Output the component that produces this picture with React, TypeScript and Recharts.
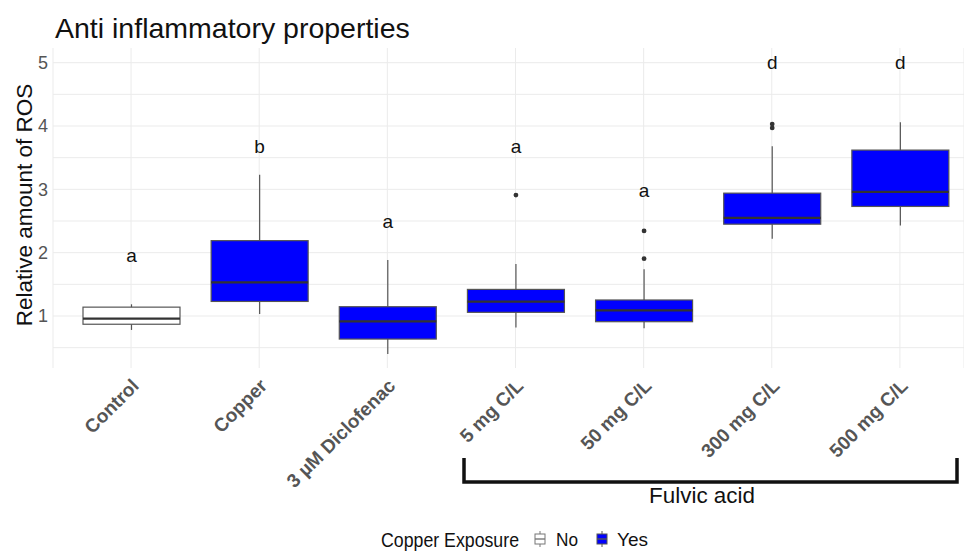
import React from 'react';
import { ComposedChart, Bar, XAxis, YAxis, CartesianGrid } from 'recharts';

// Treatments and their copper exposure
const categories = ['Control', 'Copper', '3 µM Diclofenac', '5 mg C/L', '50 mg C/L', '300 mg C/L', '500 mg C/L'];
const exposure = ['No', 'Yes', 'Yes', 'Yes', 'Yes', 'Yes', 'Yes'];

// Box statistics (relative ROS)
const whiskerLow = [0.78, 1.03, 0.4, 0.82, 0.805, 2.22, 2.43];
const q1 = [0.87, 1.23, 0.636, 1.058, 0.91, 2.45, 2.73];
const median = [0.96, 1.53, 0.916, 1.226, 1.09, 2.55, 2.96];
const q3 = [1.14, 2.19, 1.147, 1.42, 1.253, 2.94, 3.62];
const whiskerHigh = [1.185, 3.23, 1.885, 1.82, 1.738, 3.68, 4.06];
const outliers = [[], [], [], [2.91], [2.344, 1.906], [4.03, 3.97], []];

// Significance letters and the height they sit at
const letters = ['a', 'b', 'a', 'a', 'a', 'd', 'd'];
const letterY = [1.96, 3.67, 2.49, 3.67, 2.98, 5.0, 5.0];

const yTicks = [1, 2, 3, 4, 5];
const gridValues = [0.5, 1, 1.5, 2, 2.5, 3, 3.5, 4, 4.5, 5];

const FONT = '"Liberation Sans", Arial, sans-serif';
const BLUE = '#0000ff';

const data = categories.map((name, i) => ({
  name,
  exposure: exposure[i],
  whisker: [whiskerLow[i], whiskerHigh[i]],
  lo: whiskerLow[i],
  hi: whiskerHigh[i],
  q1: q1[i],
  median: median[i],
  q3: q3[i],
  outliers: outliers[i],
  letter: letters[i],
  letterY: letterY[i],
}));

// Draws the whole boxplot inside the whisker bar's rectangle
const BoxShape = (props: any) => {
  const { x, y, width, height, payload } = props;
  const top = Math.min(y, y + height);
  const h = Math.abs(height);
  const { lo, hi } = payload;
  const toY = (v: number) => top + (h * (hi - v)) / (hi - lo);
  const cx = x + width / 2;
  const fill = payload.exposure === 'Yes' ? BLUE : '#ffffff';
  return (
    <g>
      <line x1={cx} x2={cx} y1={toY(hi)} y2={toY(lo)} stroke="#555" strokeWidth={1.2} />
      <rect
        x={x}
        y={toY(payload.q3)}
        width={width}
        height={toY(payload.q1) - toY(payload.q3)}
        fill={fill}
        stroke="#555"
        strokeWidth={1.2}
      />
      <line x1={x} x2={x + width} y1={toY(payload.median)} y2={toY(payload.median)} stroke="#333" strokeWidth={2.2} />
      {payload.outliers.map((o: number, k: number) => (
        <circle key={k} cx={cx} cy={toY(o)} r={2.4} fill="#333" />
      ))}
      <text
        x={cx}
        y={toY(payload.letterY)}
        textAnchor="middle"
        dominantBaseline="central"
        fontSize={19}
        fontFamily={FONT}
        fill="#111"
      >
        {payload.letter}
      </text>
    </g>
  );
};

const XTick = (props: any) => {
  const { x, y, payload } = props;
  const tx = x + 9;
  const ty = y + 19;
  return (
    <text
      x={tx}
      y={ty}
      transform={`rotate(-45 ${tx} ${ty})`}
      textAnchor="end"
      fontSize={19}
      fontWeight="bold"
      fontFamily={FONT}
      fill="#555"
    >
      {payload.value}
    </text>
  );
};

const LegendKey = ({ x, fill, stroke }: { x: number; fill: string; stroke: string }) => (
  <g>
    <line x1={x + 5} x2={x + 5} y1={531} y2={547} stroke={stroke} strokeWidth={1} />
    <rect x={x} y={534} width={10} height={10} fill={fill} stroke={stroke} strokeWidth={1} />
    <line x1={x} x2={x + 10} y1={539} y2={539} stroke={stroke} strokeWidth={1.4} />
  </g>
);

export default function App() {
  return (
    <div style={{ position: 'absolute', left: 0, top: 0, width: 964, height: 553, background: '#fff' }}>
      <ComposedChart
        width={964}
        height={553}
        data={data}
        margin={{ top: 48, right: 0, bottom: 65, left: 0 }}
      >
        <CartesianGrid stroke="#ebebeb" horizontalValues={gridValues} />
        <XAxis
          dataKey="name"
          axisLine={false}
          tickLine={false}
          tickSize={0}
          tickMargin={0}
          height={120}
          interval={0}
          padding={{ left: 14, right: 0 }}
          tick={<XTick />}
        />
        <YAxis
          type="number"
          domain={[0.179, 5.232]}
          ticks={yTicks}
          allowDataOverflow
          width={53}
          axisLine={false}
          tickLine={false}
          tickSize={0}
          tickMargin={5}
          tick={{ fill: '#555', fontSize: 18, fontFamily: FONT }}
        />
        <Bar dataKey="whisker" barSize={97} shape={<BoxShape />} isAnimationActive={false} />
      </ComposedChart>

      <svg
        width={964}
        height={553}
        style={{ position: 'absolute', left: 0, top: 0, pointerEvents: 'none' }}
      >
        <text x={55} y={38} fontSize={28.5} fontFamily={FONT} fill="#111">
          Anti inflammatory properties
        </text>
        <text
          x={24}
          y={205}
          transform="rotate(-90 24 205)"
          textAnchor="middle"
          dominantBaseline="central"
          fontSize={22.5}
          fontFamily={FONT}
          fill="#111"
        >
          Relative amount of ROS
        </text>

        {/* bracket grouping the fulvic acid doses */}
        <path d="M464 458 V482 H957 V458" fill="none" stroke="#111" strokeWidth={3.5} />
        <text
          x={649}
          y={503}
          fontSize={22}
          fontFamily={FONT}
          fill="#111"
          textLength={106}
          lengthAdjust="spacingAndGlyphs"
        >
          Fulvic acid
        </text>

        {/* legend */}
        <text
          x={381}
          y={547}
          fontSize={21}
          fontFamily={FONT}
          fill="#111"
          textLength={138}
          lengthAdjust="spacingAndGlyphs"
        >
          Copper Exposure
        </text>
        <LegendKey x={535} fill="#ffffff" stroke="#777" />
        <text x={556} y={546} fontSize={19} fontFamily={FONT} fill="#111" textLength={22} lengthAdjust="spacingAndGlyphs">
          No
        </text>
        <LegendKey x={597} fill={BLUE} stroke="#555" />
        <text x={617} y={546} fontSize={19} fontFamily={FONT} fill="#111" textLength={31} lengthAdjust="spacingAndGlyphs">
          Yes
        </text>
      </svg>
    </div>
  );
}
